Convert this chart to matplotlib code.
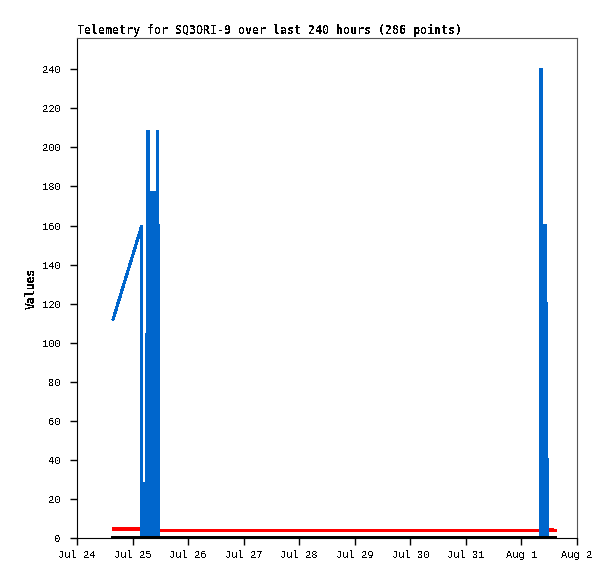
import datetime as dt
import matplotlib
matplotlib.use('Agg')
import matplotlib.pyplot as plt
import matplotlib.dates as mdates
from matplotlib.ticker import FuncFormatter

plt.rcParams['font.family'] = ['DejaVu Sans Mono']
plt.rcParams['text.antialiased'] = False

start = dt.datetime(2023, 7, 24)
end = dt.datetime(2023, 8, 2)

# hours after Jul 24 00:00
# first readings: a ramp before the bursts start
ramp_hours = [15.6, 28.0]
ramp_vals = [112, 160]

# burst readings, each one drops straight back to zero
burst_hours = [28.6, 30.1, 30.65, 30.9,
               32.3, 32.6, 33.1, 33.6, 34.05, 34.6, 35.05,
               200.2, 200.5, 200.9, 201.3, 201.7, 202.1, 202.45, 202.7, 203.1]
burst_vals = [28, 104, 208, 104,
              177, 177, 128, 128, 177, 208, 160,
              240, 240, 160, 160, 160, 160, 160, 120, 40]
last_hour = 206.7

red_hours = [15.6, 28.0, 28.2, 203.6, 203.9, 204.2, 204.6, 204.9, 205.3, 205.6, 206.7]
red_vals = [4.6, 4.6, 3.7, 3.7, 4.4, 3.7, 4.4, 3.7, 4.4, 3.7, 3.7]

black_hours = [15.6, 206.7]
black_vals = [0, 0]

yticks = list(range(0, 241, 20))


def to_dates(hours):
    return [start + dt.timedelta(hours=h) for h in hours]


# blue path: ramp, then every burst reading as a thin vertical spike
blue_h = list(ramp_hours) + [ramp_hours[-1] + 0.01]
blue_v = list(ramp_vals) + [0]
for h, v in zip(burst_hours, burst_vals):
    blue_h += [h, h, h + 0.01, h + 0.01]
    blue_v += [0, v, v, 0]
blue_h.append(last_hour)
blue_v.append(0)

fig = plt.figure(figsize=(6.15, 5.79), dpi=100)
ax = fig.add_axes([77/615, 41/579, 500/615, 500/579])

ax.plot(to_dates(red_hours), red_vals, color='#ff0000', lw=1.5,
        antialiased=False, zorder=2)
ax.plot(to_dates(blue_h), blue_v, color='#0066cc', lw=1.5,
        antialiased=False, solid_joinstyle='miter', zorder=3)
ax.plot(to_dates(black_hours), black_vals, color='black', lw=1.5,
        antialiased=False, zorder=4)

ax.set_xlim(start, end)
ax.set_ylim(0, 256)
ax.set_yticks(yticks)
ax.xaxis.set_major_locator(mdates.DayLocator())
ax.xaxis.set_major_formatter(FuncFormatter(
    lambda x, pos: '%s %d' % (mdates.num2date(x).strftime('%b'),
                              mdates.num2date(x).day)))

ax.tick_params(axis='both', direction='out', length=5, width=1,
               labelsize=7.5, colors='black')
ax.tick_params(axis='y', pad=6.5)
ax.tick_params(axis='x', pad=4)
for lab in ax.get_xticklabels() + ax.get_yticklabels():
    lab.set_family('Liberation Mono')

for side in ['top', 'right']:
    ax.spines[side].set_color('#555555')
for side in ['left', 'bottom']:
    ax.spines[side].set_color('black')

ax.set_title('Telemetry for SQ3ORI-9 over last 240 hours (286 points)',
             loc='left', fontsize=8.35, fontweight='bold', pad=3)
ax.set_ylabel('Values', fontsize=8.3, fontweight='bold')
ax.yaxis.set_label_coords(-0.078, 0.5)

plt.savefig('out.png', dpi=100)
